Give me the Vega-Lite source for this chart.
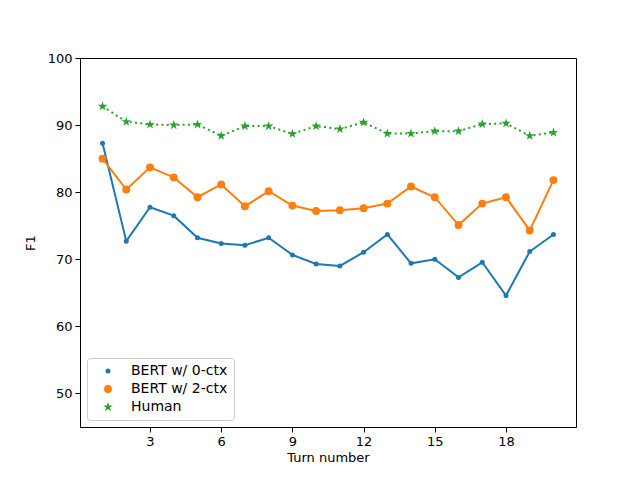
{
  "$schema": "https://vega.github.io/schema/vega-lite/v6.json",
  "autosize": "none",
  "width": 496,
  "height": 369,
  "padding": {"left": 80, "top": 58, "right": 64, "bottom": 53},
  "background": "white",
  "config": {
    "font": "DejaVu Sans",
    "view": {"stroke": "black", "strokeWidth": 1},
    "axis": {
      "grid": false,
      "domain": false,
      "tickColor": "black",
      "tickSize": 5,
      "labelColor": "black",
      "labelFontSize": 13,
      "labelPadding": 3,
      "titleFontSize": 13,
      "titleFontWeight": "normal",
      "titleColor": "black"
    }
  },
  "data": {
    "values": [
      {"turn": 1, "series": "BERT w/ 0-ctx", "f1": 87.3},
      {"turn": 2, "series": "BERT w/ 0-ctx", "f1": 72.7},
      {"turn": 3, "series": "BERT w/ 0-ctx", "f1": 77.75},
      {"turn": 4, "series": "BERT w/ 0-ctx", "f1": 76.5},
      {"turn": 5, "series": "BERT w/ 0-ctx", "f1": 73.2},
      {"turn": 6, "series": "BERT w/ 0-ctx", "f1": 72.35},
      {"turn": 7, "series": "BERT w/ 0-ctx", "f1": 72.1},
      {"turn": 8, "series": "BERT w/ 0-ctx", "f1": 73.2},
      {"turn": 9, "series": "BERT w/ 0-ctx", "f1": 70.65},
      {"turn": 10, "series": "BERT w/ 0-ctx", "f1": 69.3},
      {"turn": 11, "series": "BERT w/ 0-ctx", "f1": 69.0},
      {"turn": 12, "series": "BERT w/ 0-ctx", "f1": 71.05},
      {"turn": 13, "series": "BERT w/ 0-ctx", "f1": 73.7},
      {"turn": 14, "series": "BERT w/ 0-ctx", "f1": 69.4},
      {"turn": 15, "series": "BERT w/ 0-ctx", "f1": 70.0},
      {"turn": 16, "series": "BERT w/ 0-ctx", "f1": 67.3},
      {"turn": 17, "series": "BERT w/ 0-ctx", "f1": 69.55},
      {"turn": 18, "series": "BERT w/ 0-ctx", "f1": 64.6},
      {"turn": 19, "series": "BERT w/ 0-ctx", "f1": 71.15},
      {"turn": 20, "series": "BERT w/ 0-ctx", "f1": 73.7},
      {"turn": 1, "series": "BERT w/ 2-ctx", "f1": 85.0},
      {"turn": 2, "series": "BERT w/ 2-ctx", "f1": 80.4},
      {"turn": 3, "series": "BERT w/ 2-ctx", "f1": 83.7},
      {"turn": 4, "series": "BERT w/ 2-ctx", "f1": 82.2},
      {"turn": 5, "series": "BERT w/ 2-ctx", "f1": 79.25},
      {"turn": 6, "series": "BERT w/ 2-ctx", "f1": 81.15},
      {"turn": 7, "series": "BERT w/ 2-ctx", "f1": 77.9},
      {"turn": 8, "series": "BERT w/ 2-ctx", "f1": 80.15},
      {"turn": 9, "series": "BERT w/ 2-ctx", "f1": 78.0},
      {"turn": 10, "series": "BERT w/ 2-ctx", "f1": 77.2},
      {"turn": 11, "series": "BERT w/ 2-ctx", "f1": 77.3},
      {"turn": 12, "series": "BERT w/ 2-ctx", "f1": 77.6},
      {"turn": 13, "series": "BERT w/ 2-ctx", "f1": 78.3},
      {"turn": 14, "series": "BERT w/ 2-ctx", "f1": 80.85},
      {"turn": 15, "series": "BERT w/ 2-ctx", "f1": 79.25},
      {"turn": 16, "series": "BERT w/ 2-ctx", "f1": 75.1},
      {"turn": 17, "series": "BERT w/ 2-ctx", "f1": 78.3},
      {"turn": 18, "series": "BERT w/ 2-ctx", "f1": 79.25},
      {"turn": 19, "series": "BERT w/ 2-ctx", "f1": 74.3},
      {"turn": 20, "series": "BERT w/ 2-ctx", "f1": 81.8},
      {"turn": 1, "series": "Human", "f1": 92.8},
      {"turn": 2, "series": "Human", "f1": 90.5},
      {"turn": 3, "series": "Human", "f1": 90.1},
      {"turn": 4, "series": "Human", "f1": 90.0},
      {"turn": 5, "series": "Human", "f1": 90.1},
      {"turn": 6, "series": "Human", "f1": 88.4},
      {"turn": 7, "series": "Human", "f1": 89.85},
      {"turn": 8, "series": "Human", "f1": 89.85},
      {"turn": 9, "series": "Human", "f1": 88.7},
      {"turn": 10, "series": "Human", "f1": 89.85},
      {"turn": 11, "series": "Human", "f1": 89.4},
      {"turn": 12, "series": "Human", "f1": 90.4},
      {"turn": 13, "series": "Human", "f1": 88.75},
      {"turn": 14, "series": "Human", "f1": 88.75},
      {"turn": 15, "series": "Human", "f1": 89.1},
      {"turn": 16, "series": "Human", "f1": 89.1},
      {"turn": 17, "series": "Human", "f1": 90.15},
      {"turn": 18, "series": "Human", "f1": 90.25},
      {"turn": 19, "series": "Human", "f1": 88.4},
      {"turn": 20, "series": "Human", "f1": 88.9}
    ]
  },
  "encoding": {
    "x": {
      "field": "turn",
      "type": "quantitative",
      "title": "Turn number",
      "scale": {"domain": [0.05, 20.95], "nice": false, "zero": false},
      "axis": {"values": [3, 6, 9, 12, 15, 18], "titlePadding": 3}
    },
    "y": {
      "field": "f1",
      "type": "quantitative",
      "title": "F1",
      "scale": {"domain": [45, 100], "nice": false, "zero": false},
      "axis": {"values": [50, 60, 70, 80, 90, 100], "titlePadding": 10}
    },
    "color": {
      "field": "series",
      "type": "nominal",
      "scale": {
        "domain": ["BERT w/ 0-ctx", "BERT w/ 2-ctx", "Human"],
        "range": ["#1f77b4", "#ff7f0e", "#2ca02c"]
      },
      "legend": {
        "title": null,
        "orient": "bottom-left",
        "offset": 7,
        "fillColor": "white",
        "strokeColor": "#cccccc",
        "cornerRadius": 3,
        "padding": 6,
        "rowPadding": 4,
        "symbolOffset": 8,
        "labelOffset": 16,
        "labelFontSize": 14,
        "labelColor": "black",
        "symbolStrokeWidth": 0
      }
    }
  },
  "layer": [
    {
      "transform": [{"filter": "datum.series !== 'Human'"}],
      "mark": {"type": "line", "strokeWidth": 2},
      "encoding": {}
    },
    {
      "transform": [{"filter": "datum.series === 'Human'"}],
      "mark": {"type": "line", "strokeWidth": 2, "strokeDash": [2, 3.3], "strokeCap": "butt"},
      "encoding": {}
    },
    {
      "mark": {"type": "point", "filled": true, "opacity": 1},
      "encoding": {
        "shape": {
          "field": "series",
          "type": "nominal",
          "scale": {
            "domain": ["BERT w/ 0-ctx", "BERT w/ 2-ctx", "Human"],
            "range": ["circle", "circle", "M0,-1L0.2245,-0.309L0.951,-0.309L0.363,0.118L0.588,0.809L0,0.382L-0.588,0.809L-0.363,0.118L-0.951,-0.309L-0.2245,-0.309Z"]
          }
        },
        "size": {
          "field": "series",
          "type": "nominal",
          "scale": {
            "domain": ["BERT w/ 0-ctx", "BERT w/ 2-ctx", "Human"],
            "range": [25, 100, 70]
          }
        }
      }
    }
  ]
}
